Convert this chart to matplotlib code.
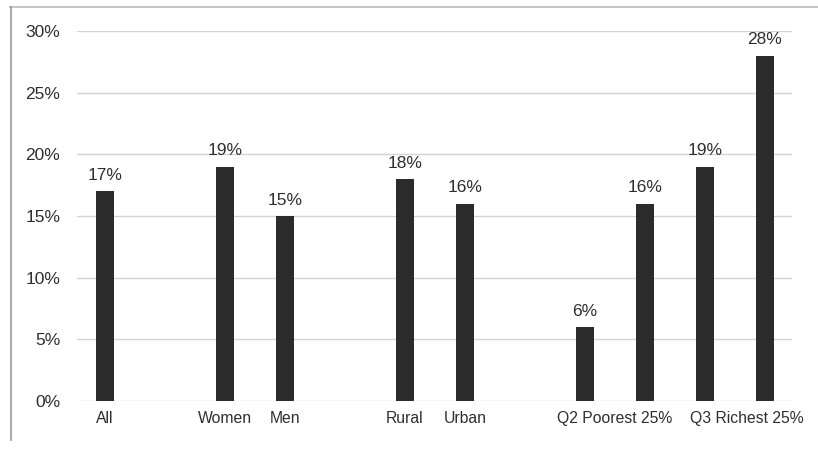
import numpy as np
import matplotlib
matplotlib.use("Agg")
import matplotlib.pyplot as plt
from matplotlib.lines import Line2D

# slot positions (gaps between groups)
slots = [0, 2, 3, 5, 6, 8, 9, 10, 11]
values = [17, 19, 15, 18, 16, 6, 16, 19, 28]
tick_pos = [0, 2, 3, 5, 6, 8.5, 10.7]
tick_labels = ["All", "Women", "Men", "Rural", "Urban", "Q2 Poorest 25%", "Q3 Richest 25%"]
yticks = [0, 5, 10, 15, 20, 25, 30]

plt.rcParams['font.family'] = ['Liberation Sans', 'DejaVu Sans']

fig = plt.figure(figsize=(8.18, 4.49), dpi=100)
ax = fig.add_axes([0.094, 0.107, 0.874, 0.824])

bars = ax.bar(slots, values, width=0.3, color='#2b2b2b', zorder=3)
for x, v in zip(slots, values):
    ax.annotate(str(v) + "%", (x, v), xytext=(0, 6), textcoords='offset points',
                ha='center', va='bottom', fontsize=12.5, color='#2e2e2e', annotation_clip=False)

ax.set_ylim(0, 30)
ax.set_xlim(-0.47, 11.45)
ax.set_yticks(yticks)
ax.set_yticklabels([str(t) + "%" for t in yticks], fontsize=12.5, color='#2e2e2e')
ax.set_xticks(tick_pos)
ax.set_xticklabels(tick_labels, fontsize=11.3, color='#2e2e2e')
ax.tick_params(length=0, pad=7)
ax.tick_params(axis='y', pad=12)
ax.grid(axis='y', color='#d4d4d4', linewidth=1, zorder=0)
for s in ax.spines.values():
    s.set_visible(False)

# outer frame of the screenshot
fig.add_artist(Line2D([0.012, 1.0], [0.985, 0.985], color='#bbbbbb', lw=1.2))
fig.add_artist(Line2D([0.013, 0.013], [0.02, 0.985], color='#999999', lw=1.2))

fig.savefig("out.png", dpi=100)
